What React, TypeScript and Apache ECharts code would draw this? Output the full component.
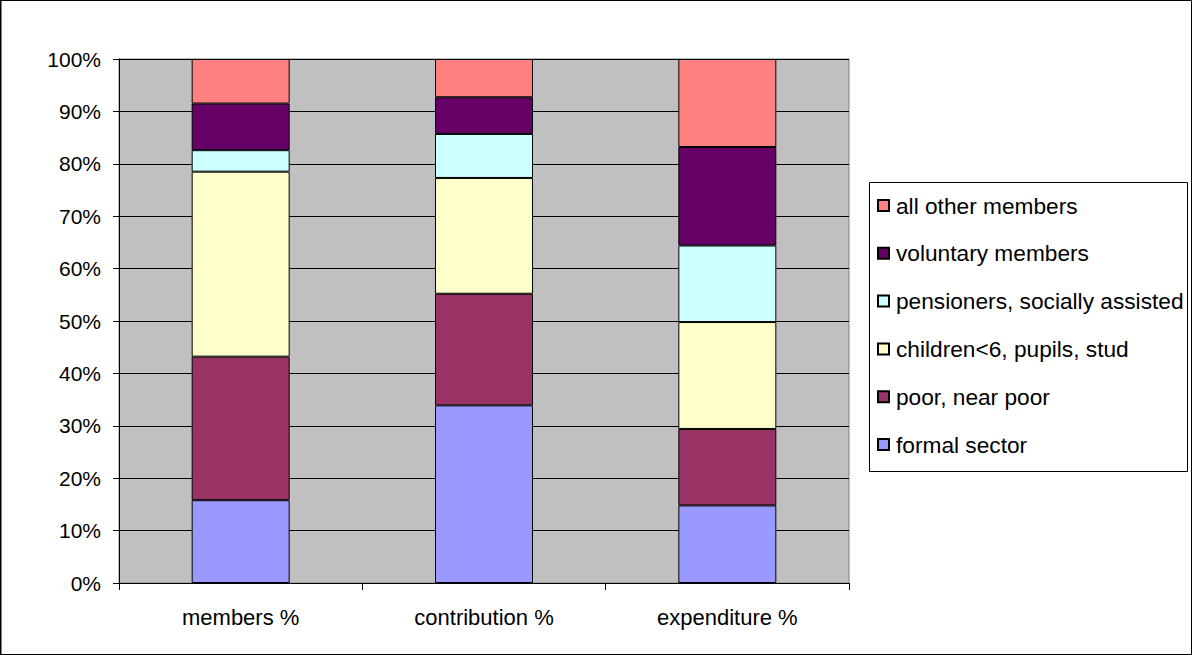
import React, { useEffect, useRef } from "react";
import * as echarts from "echarts";

// Share of each membership group, per category (percent, bottom to top)
const categories = ["members %", "contribution %", "expenditure %"];

const formalSector = [15.8, 33.9, 14.8];
const poorNearPoor = [27.4, 21.3, 14.6];
const childrenPupils = [35.3, 22.1, 20.4];
const pensioners = [4.1, 8.4, 14.6];
const voluntaryMembers = [8.9, 7.0, 18.8];
const allOtherMembers = [8.5, 7.3, 16.8];

const yTicks = { min: 0, max: 100, interval: 10 };

const FONT = "'Liberation Sans', Arial, Helvetica, sans-serif";

const seriesDefs = [
  { name: "formal sector", data: formalSector, color: "#9999FF" },
  { name: "poor, near poor", data: poorNearPoor, color: "#993366" },
  { name: "children<6, pupils, stud", data: childrenPupils, color: "#FFFFCC" },
  { name: "pensioners, socially assisted", data: pensioners, color: "#CCFFFF" },
  { name: "voluntary members", data: voluntaryMembers, color: "#660066" },
  { name: "all other members", data: allOtherMembers, color: "#FF8080" },
];

export default function App() {
  const ref = useRef<HTMLDivElement>(null);

  useEffect(() => {
    if (!ref.current) return;
    const chart = echarts.init(ref.current, undefined, { renderer: "svg" });

    chart.setOption({
      animation: false,
      backgroundColor: "#FFFFFF",
      textStyle: { fontFamily: FONT },
      grid: {
        left: 119,
        top: 59,
        width: 730,
        height: 524,
        containLabel: false,
        outerBoundsMode: "none",
        show: true,
        backgroundColor: "#C0C0C0",
        borderColor: "#808080",
        borderWidth: 1,
      },
      xAxis: {
        type: "category",
        data: categories,
        boundaryGap: true,
        axisLine: { show: true, lineStyle: { color: "#000", width: 1 } },
        axisTick: { show: true, length: 7, alignWithLabel: false, lineStyle: { color: "#000" } },
        axisLabel: { color: "#000", fontSize: 22, fontFamily: FONT, margin: 23 },
        splitLine: { show: false },
      },
      yAxis: {
        type: "value",
        min: yTicks.min,
        max: yTicks.max,
        interval: yTicks.interval,
        axisLine: { show: true, lineStyle: { color: "#000", width: 1 } },
        axisTick: { show: true, length: 6, inside: false, lineStyle: { color: "#000" } },
        axisLabel: {
          color: "#000",
          fontSize: 21,
          fontFamily: FONT,
          margin: 18,
          formatter: "{value}%",
        },
        splitLine: { show: true, lineStyle: { color: "#000", width: 1 } },
      },
      legend: {
        orient: "vertical",
        left: 877,
        top: 194,
        padding: 0,
        itemGap: 24.8,
        itemWidth: 11,
        itemHeight: 11,
        icon: "rect",
        selectedMode: false,
        data: [...seriesDefs].reverse().map((s) => s.name),
        textStyle: {
          color: "#000",
          fontSize: 22.7,
          fontFamily: FONT,
          padding: [0, 0, 0, 2],
        },
      },
      graphic: [
        {
          type: "rect",
          shape: { x: 869.5, y: 182.5, width: 318, height: 289 },
          style: { fill: "none", stroke: "#000", lineWidth: 1 },
          silent: true,
          z: 100,
        },
        {
          type: "rect",
          shape: { x: 1, y: 0.5, width: 1190.5, height: 654 },
          style: { fill: "none", stroke: "#000", lineWidth: 1 },
          silent: true,
          z: 100,
        },
        {
          type: "line",
          shape: { x1: 0.5, y1: 0, x2: 0.5, y2: 655 },
          style: { stroke: "#000", lineWidth: 1 },
          silent: true,
          z: 100,
        },
      ],
      series: seriesDefs.map((s) => ({
        name: s.name,
        type: "bar",
        stack: "total",
        data: s.data,
        barWidth: 98,
        itemStyle: { color: s.color, borderColor: "#000", borderWidth: 1 },
        emphasis: { disabled: true },
      })),
    });

    return () => chart.dispose();
  }, []);

  return (
    <div
      ref={ref}
      style={{ position: "fixed", left: 0, top: 0, width: 1192, height: 655 }}
    />
  );
}
